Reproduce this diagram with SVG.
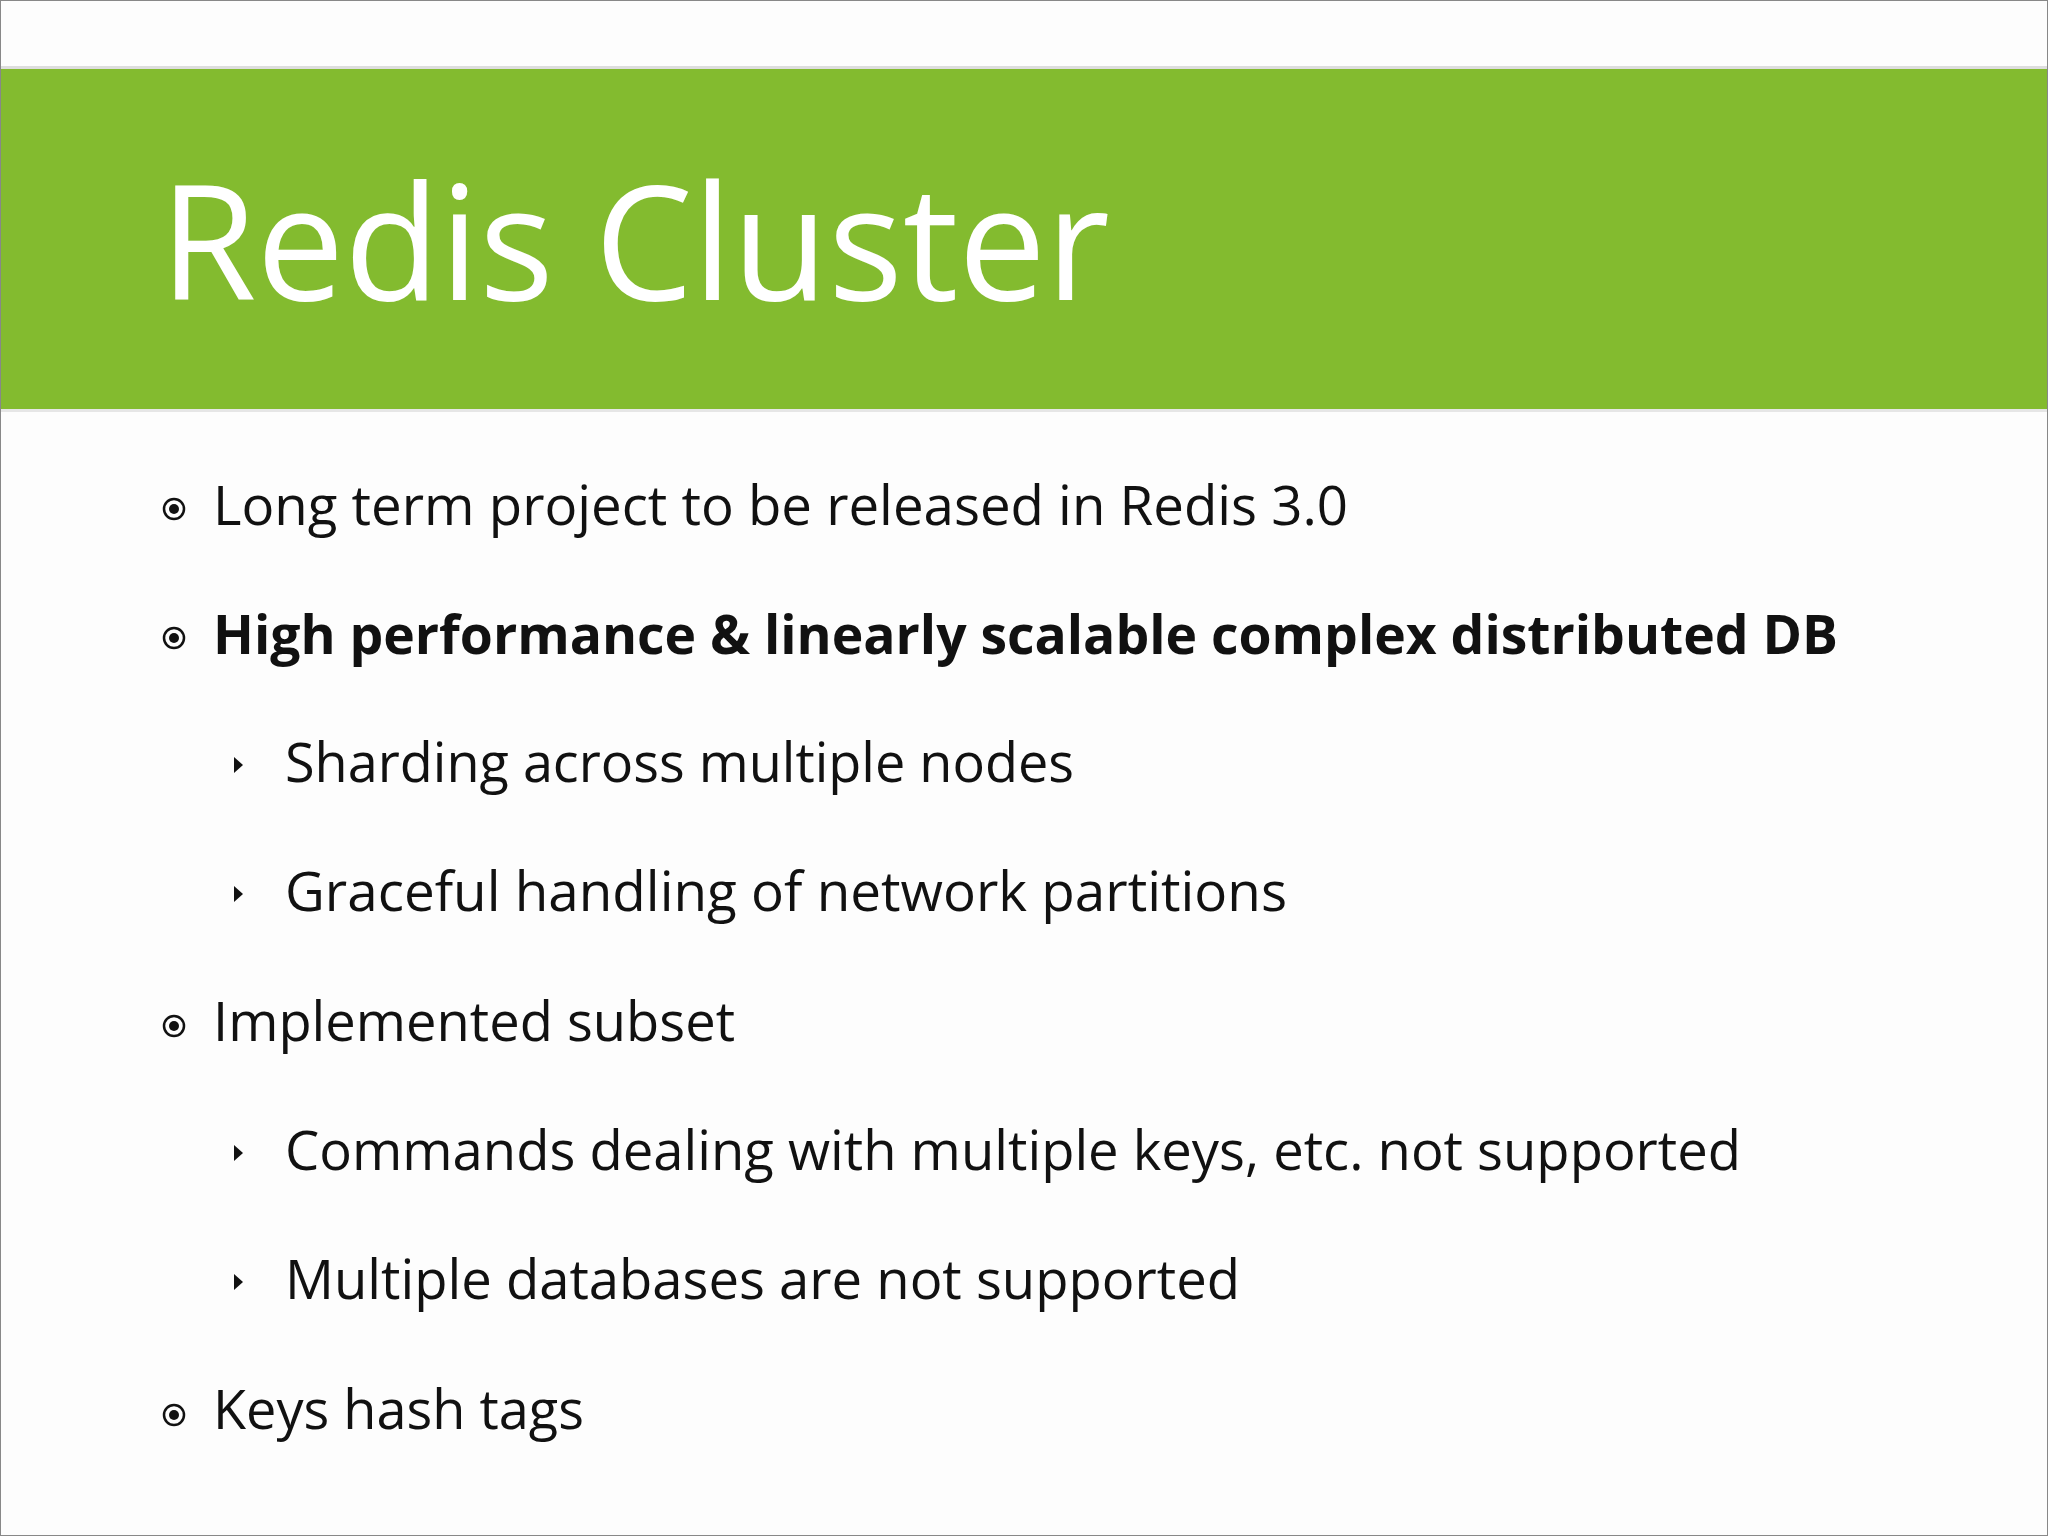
<svg xmlns="http://www.w3.org/2000/svg" width="2048" height="1536" viewBox="0 0 2048 1536">
<style>
.t{font-family:"Open Sans","Noto Sans","Liberation Sans",sans-serif;font-size:54px;fill:#111}
.b{font-weight:bold}
.c{fill:none;stroke:#111;stroke-width:2.5}
</style>
<rect x="0" y="0" width="2048" height="1536" fill="#fdfdfd" stroke="#888" stroke-width="2"/>
<rect x="1" y="66" width="2046" height="4" fill="#ddd"/>
<rect x="1" y="69" width="2046" height="340" fill="#83bb2f"/>
<rect x="1" y="409" width="2046" height="3" fill="#e6e6e6"/>
<text x="160" y="300" font-family="Open Sans,Noto Sans,Liberation Sans,sans-serif" font-size="160" fill="#fff" textLength="950" lengthAdjust="spacingAndGlyphs">Redis Cluster</text>
<g id="b1"><circle class="c" cx="174" cy="509" r="10"/><circle cx="174" cy="509" r="5" fill="#111"/><text class="t" x="213" y="525" textLength="1135" lengthAdjust="spacingAndGlyphs">Long term project to be released in Redis 3.0</text></g>
<g id="b2"><circle class="c" cx="174" cy="638" r="10"/><circle cx="174" cy="638" r="5" fill="#111"/><text class="t b" x="213" y="654" textLength="1625" lengthAdjust="spacingAndGlyphs">High performance &amp; linearly scalable complex distributed DB</text></g>
<g id="b3"><path d="M234 757 L243 765 L234 773 Z" fill="#111"/><text class="t" x="285" y="782" textLength="789" lengthAdjust="spacingAndGlyphs">Sharding across multiple nodes</text></g>
<g id="b4"><path d="M234 886 L243 894 L234 902 Z" fill="#111"/><text class="t" x="285" y="911" textLength="1002" lengthAdjust="spacingAndGlyphs">Graceful handling of network partitions</text></g>
<g id="b5"><circle class="c" cx="174" cy="1026" r="10"/><circle cx="174" cy="1026" r="5" fill="#111"/><text class="t" x="213" y="1041" textLength="522" lengthAdjust="spacingAndGlyphs">Implemented subset</text></g>
<g id="b6"><path d="M234 1145 L243 1153 L234 1161 Z" fill="#111"/><text class="t" x="285" y="1170" textLength="1456" lengthAdjust="spacingAndGlyphs">Commands dealing with multiple keys, etc. not supported</text></g>
<g id="b7"><path d="M234 1274 L243 1282 L234 1290 Z" fill="#111"/><text class="t" x="285" y="1299" textLength="955" lengthAdjust="spacingAndGlyphs">Multiple databases are not supported</text></g>
<g id="b8"><circle class="c" cx="174" cy="1415" r="10"/><circle cx="174" cy="1415" r="5" fill="#111"/><text class="t" x="213" y="1429" textLength="371" lengthAdjust="spacingAndGlyphs">Keys hash tags</text></g>
<g id="connectors"/>
</svg>
